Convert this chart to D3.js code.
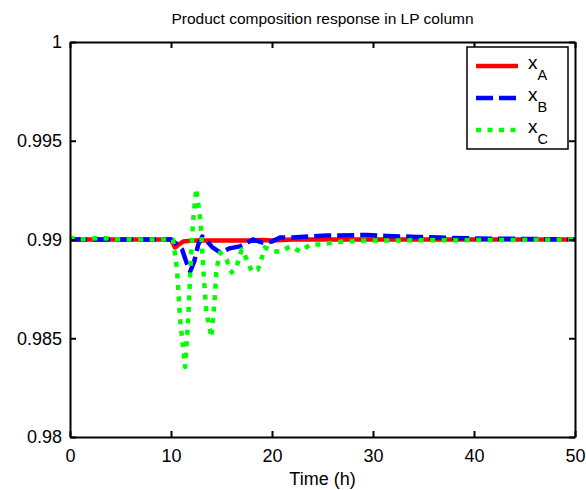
<!DOCTYPE html>
<html lang="en">
<head>
<meta charset="UTF-8">
<title>Product composition response</title>
<script src="https://d3js.org/d3.v7.min.js"></script>
<style>
  body { margin: 0; background: #fff; }
  text { font-family: "Liberation Sans", Arial, sans-serif; fill: #000; }
</style>
</head>
<body>
<div id="chart"></div>
<script>
// data
var timeA = [0, 10, 10.4, 10.8, 11.2, 12.2, 14, 16, 18, 19, 20, 22, 25, 30, 35, 40, 45, 50];
var xA = [0.99, 0.99, 0.9896, 0.98975, 0.9899, 0.98995, 0.98995, 0.98995, 0.98995, 0.98998, 0.98995, 0.99, 0.99, 0.99, 0.99, 0.99, 0.99, 0.99];

var timeB = [0, 10, 10.5, 11.1, 11.6, 11.9, 12.3, 12.7, 13.1, 13.6, 14.1, 14.9, 15.8, 16.8, 17.4, 18.1, 19, 20, 20.8, 22, 25.4, 26.7, 29.4, 31.4, 34.3, 36.6, 40, 45, 50];
var xB = [0.99, 0.99, 0.9898, 0.98949, 0.98874, 0.98838, 0.98889, 0.98975, 0.99015, 0.9899, 0.9896, 0.98934, 0.98955, 0.98965, 0.9898, 0.99, 0.98985, 0.9899, 0.9901, 0.9901, 0.9902, 0.9902, 0.99023, 0.99018, 0.99013, 0.9901, 0.99005, 0.99003, 0.99];

var timeC = [0, 0.5, 1, 3, 5, 10, 10.2, 10.6, 10.9, 11.4, 11.7, 12.0, 12.2, 12.5, 12.9, 13.2, 13.5, 14.0, 14.3, 14.5, 14.85, 15.5, 16, 16.5, 17, 17.5, 18, 18.6, 19, 19.3, 20.1, 20.9, 21.8, 22.8, 23.8, 24.9, 26, 27.2, 29.4, 32, 35, 40, 45, 50];
var xC = [0.99, 0.9901, 0.99, 0.99008, 0.99, 0.99, 0.99, 0.98848, 0.98596, 0.98354, 0.98596, 0.98934, 0.99101, 0.99258, 0.99101, 0.98848, 0.98631, 0.98505, 0.98682, 0.98848, 0.98934, 0.98899, 0.98833, 0.98864, 0.98949, 0.98899, 0.98838, 0.98848, 0.98909, 0.9896, 0.98939, 0.98939, 0.98965, 0.98939, 0.98975, 0.98975, 0.98985, 0.9899, 0.98995, 0.98995, 0.98996, 0.98997, 0.98998, 0.99];

var xTicks = [0, 10, 20, 30, 40, 50];
var yTicks = [0.98, 0.985, 0.99, 0.995, 1];
var legendNames = ["A", "B", "C"];

var width = 586, height = 490;
var plotL = 70, plotR = 575, plotT = 42, plotB = 437;

var svg = d3.select("#chart").append("svg")
    .attr("width", width)
    .attr("height", height);

var x = d3.scaleLinear().domain([0, 50]).range([plotL, plotR]);
var y = d3.scaleLinear().domain([0.98, 1]).range([plotB, plotT]);

// title
svg.append("text")
    .attr("x", (plotL + plotR) / 2)
    .attr("y", 24)
    .attr("text-anchor", "middle")
    .style("font-size", "15.5px")
    .text("Product composition response in LP column");

// series
var series = [
  { t: timeA, v: xA, color: "#ff0000", dash: null },
  { t: timeB, v: xB, color: "#0000ff", dash: "17,6" },
  { t: timeC, v: xC, color: "#00ff00", dash: "5,6.5" }
];

var line = d3.line()
    .x(function(d) { return x(d[0]); })
    .y(function(d) { return y(d[1]); });

series.forEach(function(s) {
  svg.append("path")
      .datum(d3.zip(s.t, s.v))
      .attr("d", line)
      .attr("fill", "none")
      .attr("stroke", s.color)
      .attr("stroke-width", 4.5)
      .attr("stroke-dasharray", s.dash)
      .attr("stroke-linejoin", "round");
});

// axes (ticks inside, on all four sides)
var tickLen = 6;
var xb = svg.append("g").attr("transform", "translate(0," + plotB + ")")
    .call(d3.axisBottom(x).tickValues(xTicks).tickSizeInner(-tickLen).tickSizeOuter(0).tickPadding(12).tickFormat(d3.format("d")));
var xt = svg.append("g").attr("transform", "translate(0," + plotT + ")")
    .call(d3.axisTop(x).tickValues(xTicks).tickSizeInner(-tickLen).tickSizeOuter(0).tickFormat(""));
var yl = svg.append("g").attr("transform", "translate(" + plotL + ",0)")
    .call(d3.axisLeft(y).tickValues(yTicks).tickSizeInner(-tickLen).tickSizeOuter(0).tickPadding(8).tickFormat(function(d) { return String(+d.toFixed(3)); }));
var yr = svg.append("g").attr("transform", "translate(" + plotR + ",0)")
    .call(d3.axisRight(y).tickValues(yTicks).tickSizeInner(-tickLen).tickSizeOuter(0).tickFormat(""));

[xb, xt, yl, yr].forEach(function(g) {
  g.select(".domain").attr("stroke", "#000").attr("stroke-width", 2);
  g.selectAll(".tick line").attr("stroke", "#000").attr("stroke-width", 2);
  g.selectAll(".tick text").style("font-size", "18px").attr("font-family", null);
});

// x label
svg.append("text")
    .attr("x", (plotL + plotR) / 2)
    .attr("y", 485)
    .attr("text-anchor", "middle")
    .style("font-size", "18px")
    .text("Time (h)");

// legend
var lg = svg.append("g");
lg.append("rect")
    .attr("x", 467).attr("y", 47)
    .attr("width", 101).attr("height", 102)
    .attr("fill", "#fff")
    .attr("stroke", "#000")
    .attr("stroke-width", 1.5);

series.forEach(function(s, i) {
  var ly = 66 + i * 32;
  lg.append("line")
      .attr("x1", 476).attr("x2", 518)
      .attr("y1", ly).attr("y2", ly)
      .attr("stroke", s.color)
      .attr("stroke-width", 4.5)
      .attr("stroke-dasharray", s.dash);
  var t = lg.append("text")
      .attr("x", 528).attr("y", ly + 3)
      .style("font-size", "19px");
  t.append("tspan").text("x");
  t.append("tspan").attr("dy", 11).style("font-size", "14.5px").text(legendNames[i]);
});
</script>
</body>
</html>
